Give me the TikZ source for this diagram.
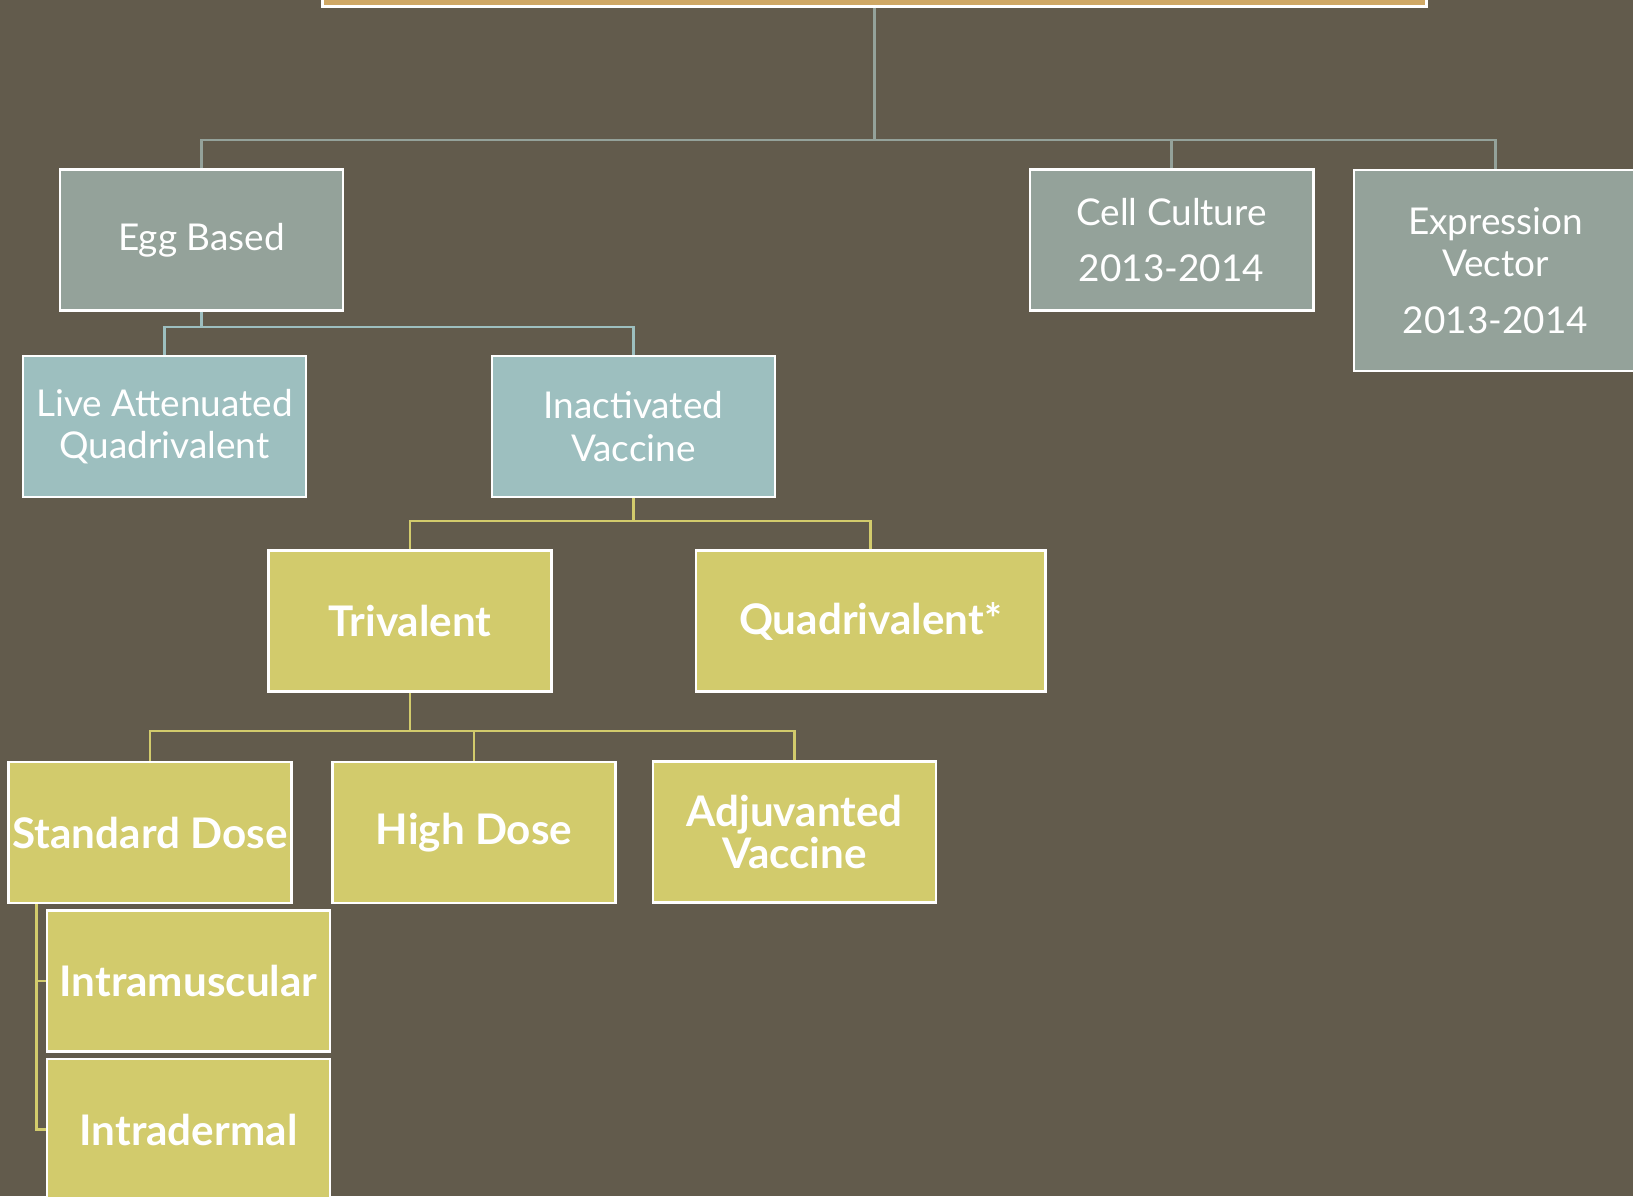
\documentclass[tikz,border=0pt]{standalone}
\usepackage{fontspec}
\setmainfont{Lato}
\usetikzlibrary{calc}
\definecolor{bgbrown}{HTML}{625B4C}
\definecolor{topbox}{HTML}{CFA865}
\definecolor{boxgray}{HTML}{94A29A}
\definecolor{boxteal}{HTML}{9DBFBF}
\definecolor{boxyellow}{HTML}{D2CB6C}
\tikzstyle{box}=[rectangle,draw=white,line width=0.8pt,text=white,align=center,inner sep=0pt,minimum width=2.83cm,minimum height=1.41cm]
\tikzstyle{graybox}=[box,fill=boxgray,font=\fontsize{10.5}{12}\selectfont]
\tikzstyle{tealbox}=[box,fill=boxteal,font=\fontsize{10.5}{12}\selectfont]
\tikzstyle{yellowbox}=[box,fill=boxyellow,font=\bfseries\fontsize{12}{11.7}\selectfont]
\tikzstyle{link}=[draw,line width=0.6pt]

\begin{document}
\begin{tikzpicture}[x=0.01cm,y=-0.01cm]

    \useasboundingbox (0,0) rectangle (1633,1196);
    \clip (0,0) rectangle (1633,1196);
    \fill[bgbrown] (0,0) rectangle (1633,1196);

    % top level
    \node[box, fill=topbox, minimum width=11.03cm] (root) at (874.5,-64) {};

    \node[graybox] (egg) at (201.5,240) {Egg Based};
    \node[graybox] (cell) at (1171.5,240) {Cell Culture\\[4pt] 2013-2014};
    \node[graybox, minimum height=2.01cm] (expr) at (1495.5,270.5) {Expression\\ Vector\\[4pt] 2013-2014};

    % egg based
    \foreach \x/\y/\name/\txt in {164.5/426.5/live/{Live Attenuated\\ Quadrivalent}, 633.5/426.5/inact/{Inactivated\\ Vaccine}}
        \node[tealbox] (\name) at (\x,\y) {\txt};

    % inactivated
    \node[yellowbox] (tri) at (410,621) {Trivalent};
    \node[yellowbox, minimum width=3.49cm] (quad) at (870.5,621) {Quadrivalent*};

    \foreach \x/\y/\name/\txt in {150/832.5/std/{Standard Dose}, 474/832.5/high/{High Dose}, 794.5/832/adj/{Adjuvanted\\ Vaccine}, 188.5/981/intram/{Intramuscular}, 188.5/1129.5/intrad/{Intradermal}}
        \node[yellowbox] (\name) at (\x,\y) {\txt};

    % connectors
    \coordinate (bus1) at (874.5,140);
    \coordinate (bus2) at (201.5,327);
    \coordinate (bus3) at (633.5,521);
    \coordinate (bus4) at (410,731);
    \coordinate (stdleg) at ($(std.south west)+(29.5,0)$);

    \path[link, boxgray] (root.south) -- (bus1);
    \foreach \dest in {egg, cell, expr}
        \path[link, boxgray] (\dest.north) |- (bus1);

    \path[link, boxteal] (egg.south) -- (bus2);
    \foreach \dest in {live, inact}
        \path[link, boxteal] (\dest.north) |- (bus2);

    \path[link, boxyellow] (inact.south) -- (bus3);
    \foreach \dest in {tri, quad}
        \path[link, boxyellow] (\dest.north) |- (bus3);

    \path[link, boxyellow] (tri.south) -- (bus4);
    \foreach \dest in {std, high, adj}
        \path[link, boxyellow] (\dest.north) |- (bus4);

    \foreach \dest in {intram, intrad}
        \path[link, boxyellow] (stdleg) |- (\dest.west);

\end{tikzpicture}
\end{document}
